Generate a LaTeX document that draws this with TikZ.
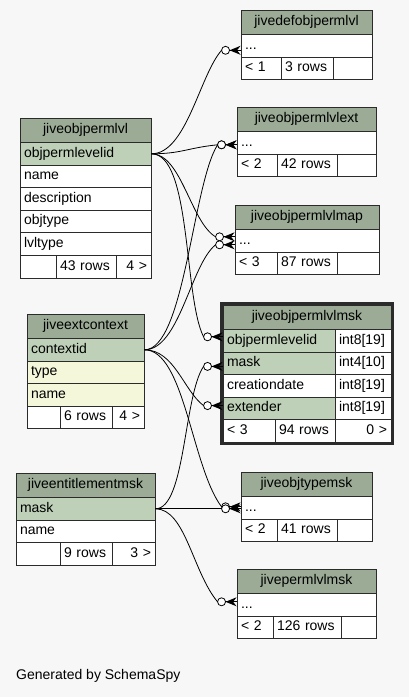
\documentclass[tikz,border=0pt]{standalone}
\usepackage{fontspec}
\newfontfamily\schemafont{Liberation Sans}
\newcommand{\erdfont}{\schemafont\fontsize{14pt}{16pt}\selectfont}

\definecolor{headGreen}{HTML}{9BAB96}
\definecolor{keyGreen}{HTML}{BED1B8}
\definecolor{extYellow}{HTML}{F4F7DA}
\definecolor{bgGray}{HTML}{F7F7F7}
\definecolor{lineGray}{HTML}{2B2B2B}

\tikzset{
	cell/.style={rectangle, draw=lineGray, line width=0.9pt, inner xsep=4pt, inner ysep=0pt,
		text height=10pt, text depth=3.5pt, font=\erdfont, minimum height=22.6pt},
	headcell/.style={cell, fill=headGreen, align=center, minimum height=24.5pt},
	keycell/.style={cell, fill=keyGreen, align=left},
	plaincell/.style={cell, fill=white, align=left},
	extcell/.style={cell, fill=extYellow, align=left},
	footcell/.style={cell, fill=white, align=left},
	footright/.style={cell, fill=white, align=right},
	link/.style={draw=black, line width=0.8pt},
	crowodot/.pic={
		\fill[black] (-11,0) -- (0,-4.5) -- (-3.5,0) -- (0,4.5) -- cycle;
		\draw[black, line width=0.8pt] (-11,0) -- (0,0);
		\draw[black, fill=white, line width=0.8pt] (-15,0) circle (4pt);
		\coordinate (-in) at (-19,0);
	}
}

\begin{document}
\begin{tikzpicture}[x=1pt, y=-1pt]
		
		\useasboundingbox (0,0) rectangle (409,697);
		\fill[bgGray] (0,0) rectangle (409,697);
		
		%jivedefobjpermlvl
		\node (defHead) at (306.5,22.25) [headcell, text width=123pt]{jivedefobjpermlvl};
		\node (defRow) at (306.5,45.8) [plaincell, text width=123pt]{...};
		\node (defFootA) at (261,68.4) [footcell, text width=32pt]{< 1};
		\node (defFootB) at (307,68.4) [footcell, text width=44pt]{3 rows};
		\node (defFootC) at (352.5,68.4) [footcell, text width=31pt]{};
		
		%jiveobjpermlvlext
		\node (extHead) at (306.5,119.25) [headcell, text width=131pt]{jiveobjpermlvlext};
		\node (extRow) at (306.5,142.8) [plaincell, text width=131pt]{...};
		\node (extFootA) at (257,165.4) [footcell, text width=32pt]{< 2};
		\node (extFootB) at (307,165.4) [footcell, text width=52pt]{42 rows};
		\node (extFootC) at (356.5,165.4) [footcell, text width=31pt]{};
		
		%jiveobjpermlvlmap
		\node (mapHead) at (307,217.25) [headcell, text width=136pt]{jiveobjpermlvlmap};
		\node (mapRow) at (307,240.8) [plaincell, text width=136pt]{...};
		\node (mapFootA) at (256,263.4) [footcell, text width=34pt]{< 3};
		\node (mapFootB) at (307,263.4) [footcell, text width=52pt]{87 rows};
		\node (mapFootC) at (358,263.4) [footcell, text width=34pt]{};
		
		%jiveobjpermlvl
		\node (lvlHead) at (85.5,130.25) [headcell, text width=123pt]{jiveobjpermlvl};
		\node (lvlId) at (85.5,153.8) [keycell, text width=123pt]{objpermlevelid};
		\node (lvlName) at (85.5,176.4) [plaincell, text width=123pt]{name};
		\node (lvlDesc) at (85.5,199) [plaincell, text width=123pt]{description};
		\node (lvlObjType) at (85.5,221.6) [plaincell, text width=123pt]{objtype};
		\node (lvlLvlType) at (85.5,244.2) [plaincell, text width=123pt]{lvltype};
		\node (lvlFootA) at (38,266.8) [footcell, text width=28pt]{};
		\node (lvlFootB) at (86,266.8) [footcell, text width=52pt]{43 rows};
		\node (lvlFootC) at (133.5,266.8) [footright, text width=27pt]{4 >};
		
		%jiveextcontext
		\node (ctxHead) at (85.5,326.25) [headcell, text width=109pt]{jiveextcontext};
		\node (ctxId) at (85.5,349.8) [keycell, text width=109pt]{contextid};
		\node (ctxType) at (85.5,372.4) [extcell, text width=109pt]{type};
		\node (ctxName) at (85.5,395) [extcell, text width=109pt]{name};
		\node (ctxFootA) at (43.5,417.6) [footcell, text width=25pt]{};
		\node (ctxFootB) at (86,417.6) [footcell, text width=44pt]{6 rows};
		\node (ctxFootC) at (128,417.6) [footright, text width=24pt]{4 >};
		
		%jiveobjpermlvlmsk
		\node (mskHead) at (307,317.25) [headcell, text width=160pt]{jiveobjpermlvlmsk};
		\node (mskId) at (279,340.8) [keycell, text width=104pt]{objpermlevelid};
		\node (mskIdType) at (363,340.8) [plaincell, text width=48pt]{int8[19]};
		\node (mskMask) at (279,363.4) [keycell, text width=104pt]{mask};
		\node (mskMaskType) at (363,363.4) [plaincell, text width=48pt]{int4[10]};
		\node (mskDate) at (279,386) [plaincell, text width=104pt]{creationdate};
		\node (mskDateType) at (363,386) [plaincell, text width=48pt]{int8[19]};
		\node (mskExt) at (279,408.6) [keycell, text width=104pt]{extender};
		\node (mskExtType) at (363,408.6) [plaincell, text width=48pt]{int8[19]};
		\node (mskFootA) at (249,431.2) [footcell, text width=44pt]{< 3};
		\node (mskFootB) at (305,431.2) [footcell, text width=52pt]{94 rows};
		\node (mskFootC) at (363,431.2) [footright, text width=48pt]{0 >};
		
		%Focus frame
		\draw[lineGray, line width=3pt] (221.5,303.5) rectangle (392.2,443.5);
		
		%jiveentitlementmsk
		\node (entHead) at (85.5,485.25) [headcell, text width=131pt]{jiveentitlementmsk};
		\node (entMask) at (85.5,508.8) [keycell, text width=131pt]{mask};
		\node (entName) at (85.5,531.4) [plaincell, text width=131pt]{name};
		\node (entFootA) at (38,554) [footcell, text width=36pt]{};
		\node (entFootB) at (86,554) [footcell, text width=44pt]{9 rows};
		\node (entFootC) at (133.5,554) [footright, text width=35pt]{3 >};
		
		%jiveobjtypemsk
		\node (typHead) at (306.5,484.25) [headcell, text width=123pt]{jiveobjtypemsk};
		\node (typRow) at (306.5,507.8) [plaincell, text width=123pt]{...};
		\node (typFootA) at (259,530.4) [footcell, text width=28pt]{< 2};
		\node (typFootB) at (307,530.4) [footcell, text width=52pt]{41 rows};
		\node (typFootC) at (354.5,530.4) [footcell, text width=27pt]{};
		
		%jivepermlvlmsk
		\node (permHead) at (306.5,581.25) [headcell, text width=131pt]{jivepermlvlmsk};
		\node (permRow) at (306.5,604.8) [plaincell, text width=131pt]{...};
		\node (permFootA) at (255,627.4) [footcell, text width=28pt]{< 2};
		\node (permFootB) at (307,627.4) [footcell, text width=60pt]{126 rows};
		\node (permFootC) at (358.5,627.4) [footcell, text width=27pt]{};
		
		%Crow feet
		\pic (defPort) at ([yshift=-4.5pt]defRow.west) {crowodot};
		\pic (extPortL) at ([yshift=-2pt]extRow.west) {crowodot};
		\pic (extPortC) at ([yshift=-2pt]extRow.west) {crowodot};
		\pic (mapPortL) at ([yshift=4pt]mapRow.west) {crowodot};
		\pic (mapPortC) at ([yshift=-4pt]mapRow.west) {crowodot};
		\pic (mskIdPort) at ([yshift=4pt]mskId.west) {crowodot};
		\pic (mskMaskPort) at ([yshift=-3pt]mskMask.west) {crowodot};
		\pic (mskExtPort) at ([yshift=3pt]mskExt.west) {crowodot};
		\pic (typPortC) at ([yshift=1pt]typRow.west) {crowodot};
		\pic (typPortE) at ([yshift=-1pt]typRow.west) {crowodot};
		\pic (permPort) at ([yshift=3pt]permRow.west) {crowodot};
		
		%Links
		\draw[link] (lvlId.east) .. controls +(35,0) and +(-22,25) .. (defPort-in);
		\draw[link] (lvlId.east) .. controls +(30,0) and +(-30,3) .. (extPortL-in);
		\draw[link] (lvlId.east) .. controls +(30,0) and +(-25,-15) .. (mapPortL-in);
		\draw[link] (lvlId.east) .. controls +(40,0) and +(-20,-40) .. (mskIdPort-in);
		\draw[link] (ctxId.east) .. controls +(40,0) and +(-25,40) .. (extPortC-in);
		\draw[link] (ctxId.east) .. controls +(35,0) and +(-25,20) .. (mapPortC-in);
		\draw[link] (ctxId.east) .. controls +(30,0) and +(-20,-15) .. (mskExtPort-in);
		\draw[link] (ctxId.east) .. controls +(40,0) and +(-30,-40) .. (typPortC-in);
		\draw[link] (entMask.east) .. controls +(30,0) and +(-20,30) .. (mskMaskPort-in);
		\draw[link] (entMask.east) -- (typPortE-in);
		\draw[link] (entMask.east) .. controls +(30,0) and +(-25,-30) .. (permPort-in);
		
		%Footer
		\node (credit) at (16,679) [anchor=base west, font=\erdfont, inner sep=0pt]{Generated by SchemaSpy};
		
		\end{tikzpicture}
\end{document}
